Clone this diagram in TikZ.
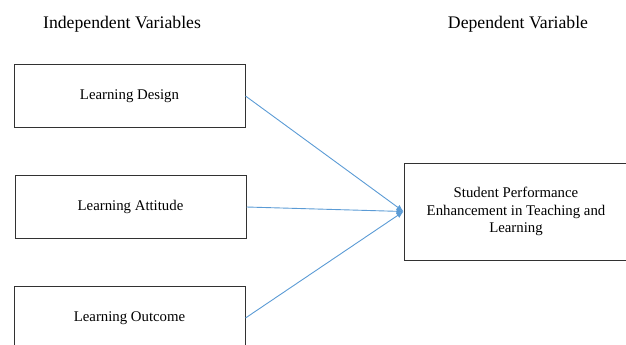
\documentclass[tikz,border=0pt]{standalone}
\usepackage{fontspec}
\newfontfamily\tnr{LiberationSerif-Regular.ttf}
\usetikzlibrary{arrows.meta}
\definecolor{linkblue}{RGB}{91,155,213}
\definecolor{boxline}{RGB}{50,50,50}
\begin{document}
\begin{tikzpicture}[x=1pt,y=-1pt,
  varbox/.style={draw=boxline,line width=1pt,minimum width=231pt,minimum height=63pt,inner sep=0pt,font=\tnr\fontsize{14.8}{17.5}\selectfont},
  title/.style={font=\tnr\fontsize{17.7}{20}\selectfont,inner sep=0pt},
  link/.style={draw=linkblue,line width=0.9pt,-{Latex[length=7pt,width=6pt]}}]
\useasboundingbox (0,0) rectangle (626,345);
\node[title] (tiv) at (122,24) {Independent Variables};
\node[title] (tdv) at (518,24) {Dependent Variable};
\node[varbox] (ld) at (129.5,96) {Learning Design};
\node[varbox] (la) at (130.5,207) {Learning Attitude};
\node[varbox] (lo) at (129.5,318) {Learning Outcome};
\node[draw=boxline,line width=1pt,minimum width=224pt,minimum height=97pt,inner sep=0pt,
  align=center,font=\tnr\fontsize{14.8}{17.5}\selectfont] (dv) at (516,211.5)
  {Student Performance\\Enhancement in Teaching and\\Learning};
\draw[link] (ld.east) -- (dv.west);
\draw[link] (la.east) -- (dv.west);
\draw[link] (lo.east) -- (dv.west);
\end{tikzpicture}
\end{document}
